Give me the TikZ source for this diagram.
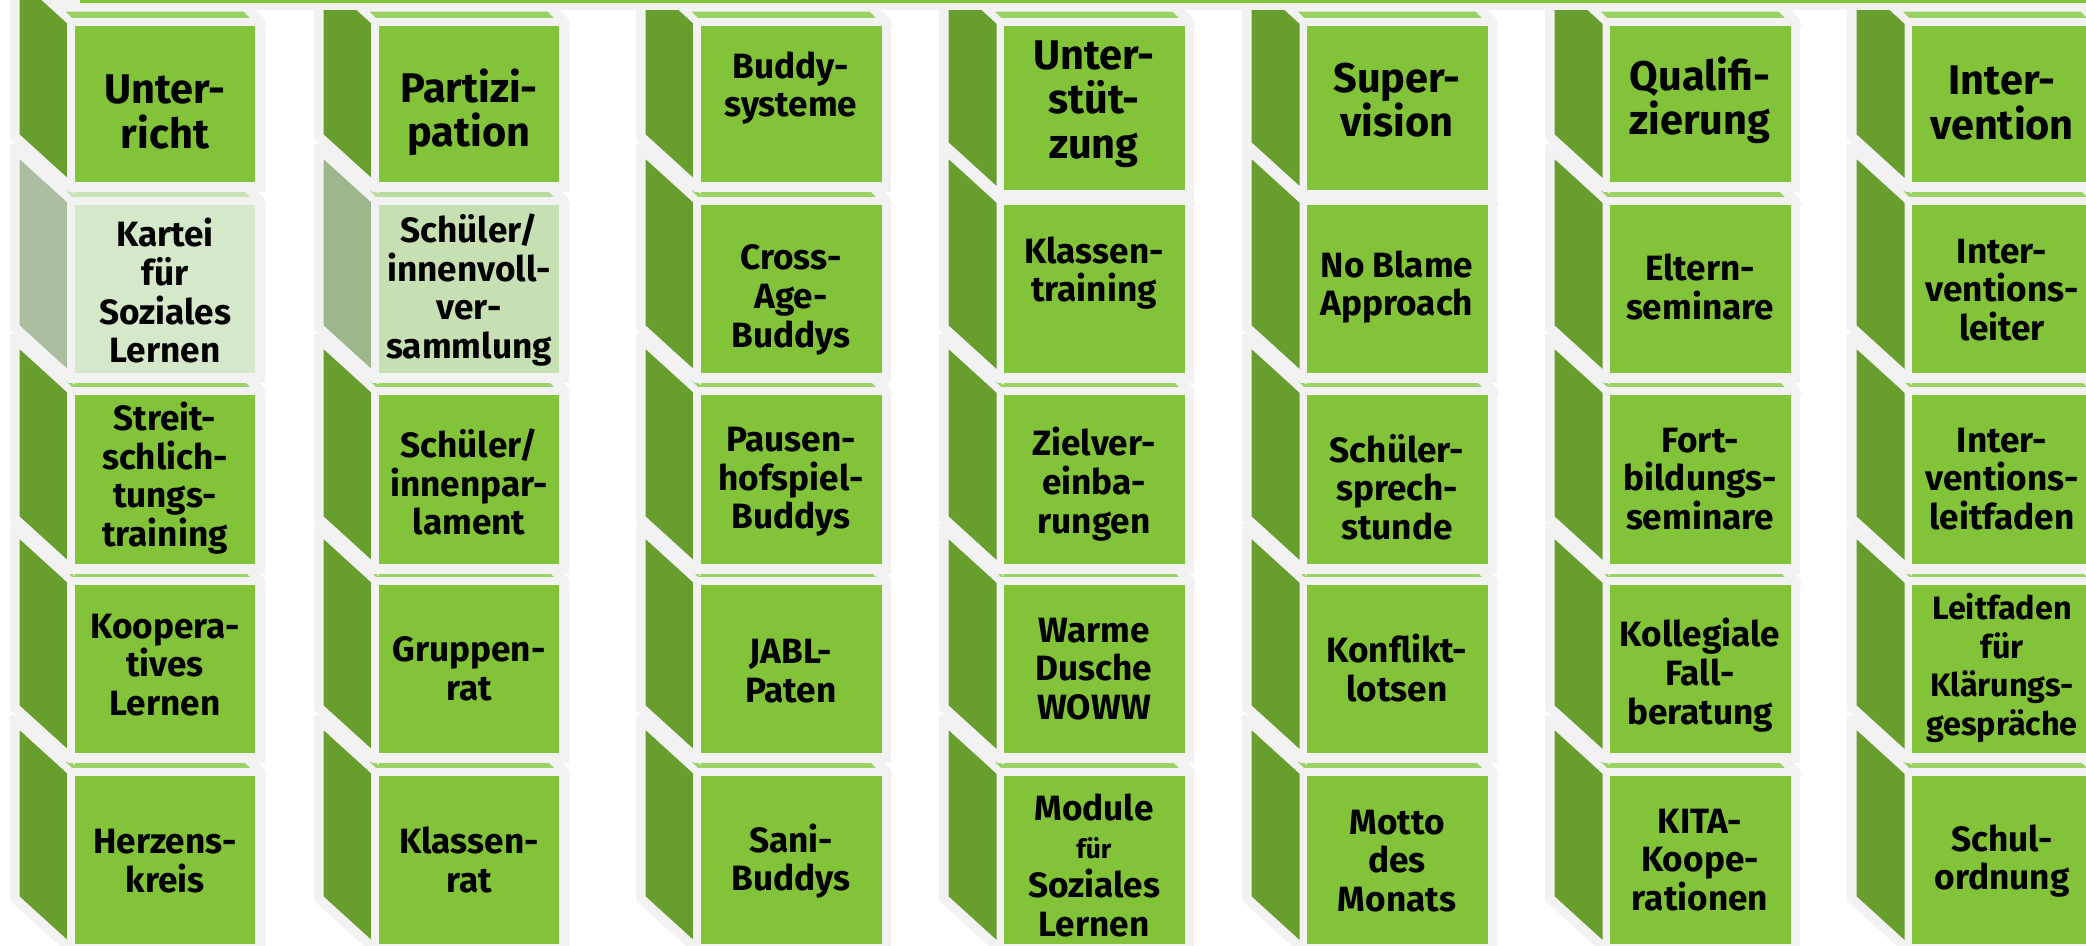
\documentclass[tikz,border=0pt]{standalone}
\usepackage{fontspec}
\setmainfont{Fira Sans}
\usepackage{tikz}
\definecolor{bsFront}{RGB}{130,195,57}
\definecolor{bsSide}{RGB}{104,158,45}
\definecolor{bsTop}{RGB}{155,210,100}
\definecolor{bsRim}{RGB}{242,242,242}
\definecolor{karteiFront}{RGB}{213,232,202}
\definecolor{karteiSide}{RGB}{172,190,162}
\definecolor{karteiTop}{RGB}{200,228,180}
\definecolor{vollFront}{RGB}{198,224,180}
\definecolor{vollSide}{RGB}{158,182,140}
\definecolor{vollTop}{RGB}{185,220,160}

% cuboid: #1 left x, #2 top y, #3 bottom y, #4 front, #5 side, #6 top
\newcommand{\cuboid}[6]{%
  \draw[rim] (#1-55,#2-50) -- (#1+174,#2-14) -- (#1+188,#2) -- (#1+188,#3)
    -- (#1,#3) -- (#1-55,#3-50) -- cycle;
  \draw[face, fill=#5] (#1,#2) -- (#1,#3) -- (#1-55,#3-50) -- (#1-55,#2-50) -- cycle;
  \draw[face, fill=#6] (#1,#2) -- (#1+188,#2) -- (#1+174,#2-14) -- (#1-14,#2-14) -- cycle;
  \draw[face, fill=#4] (#1,#2) rectangle (#1+188,#3);
}

\begin{document}
\begin{tikzpicture}[x=0.01cm, y=-0.01cm,
  rim/.style={draw=bsRim, fill=bsRim, line width=3.4pt},
  face/.style={draw=bsRim, line width=2pt},
  titel/.style={align=center, font=\bfseries\fontsize{11.8}{12.6}\selectfont},
  eintrag/.style={align=center, font=\bfseries\fontsize{10}{11}\selectfont}]
  \clip (0,0) rectangle (2086,946);
  \fill[white] (0,0) rectangle (2086,946);

  % cubes, lowest row first
  \foreach \ft/\fb in {772/948, 581/757, 391/568}
    \foreach \fx in {71,375,697,1000,1303,1606,1908}
      {\cuboid{\fx}{\ft}{\fb}{bsFront}{bsSide}{bsTop}}
  \foreach \fx/\fc/\sc/\tc in {71/karteiFront/karteiSide/karteiTop,
      375/vollFront/vollSide/vollTop, 697/bsFront/bsSide/bsTop,
      1000/bsFront/bsSide/bsTop, 1303/bsFront/bsSide/bsTop,
      1606/bsFront/bsSide/bsTop, 1908/bsFront/bsSide/bsTop}
    {\cuboid{\fx}{201}{377}{\fc}{\sc}{\tc}}
  \foreach \fx/\fb in {71/186, 375/186, 697/186, 1000/194, 1303/194, 1606/186, 1908/186}
    {\cuboid{\fx}{22}{\fb}{bsFront}{bsSide}{bsTop}}

  % bar along the top
  \fill[bsRim] (67,-5) rectangle (2090,10);
  \fill[bsFront] (80,-5) rectangle (2090,3);

  % column 1
  \node[titel] (unterricht) at (165,112) {Unter-\\richt};
  \node[eintrag] (kartei) at (165,291) {Kartei\\für\\Soziales\\Lernen};
  \node[eintrag] (streit) at (165,478) {Streit-\\schlich-\\tungs-\\training};
  \node[eintrag] (koop) at (165,665) {Koopera-\\tives\\Lernen};
  \node[eintrag] (herz) at (165,861) {Herzens-\\kreis};

  % column 2
  \node[titel] (partizipation) at (469,112) {Partizi-\\pation};
  \node[eintrag] (vollvers) at (469,290) {Schüler/\\innenvoll-\\ver-\\sammlung};
  \node[eintrag] (parlament) at (469,482) {Schüler/\\innenpar-\\lament};
  \node[eintrag] (gruppenrat) at (469,669) {Gruppen-\\rat};
  \node[eintrag] (klassenrat) at (469,860) {Klassen-\\rat};

  % column 3
  \node[eintrag] (buddy) at (791,88) {Buddy-\\systeme};
  \node[eintrag] (crossage) at (791,300) {Cross-\\Age-\\Buddys};
  \node[eintrag] (pausen) at (791,482) {Pausen-\\hofspiel-\\Buddys};
  \node[eintrag] (jabl) at (791,671) {JABL-\\Paten};
  \node[eintrag] (sani) at (791,861) {Sani-\\Buddys};

  % column 4
  \node[titel] (unterstuetzung) at (1094,104) {Unter-\\stüt-\\zung};
  \node[eintrag] (klassentraining) at (1094,273) {Klassen-\\training};
  \node[eintrag] (ziel) at (1094,484) {Zielver-\\einba-\\rungen};
  \node[eintrag] (dusche) at (1094,669) {Warme\\Dusche\\WOWW};
  \node[eintrag] (module) at (1094,865) {Module\\{\fontsize{7.5}{9}\selectfont für}\\Soziales\\Lernen};

  % column 5
  \node[titel] (supervision) at (1397,100) {Super-\\vision};
  \node[eintrag] (noblame) at (1397,287) {No Blame\\Approach};
  \node[eintrag] (sprechstunde) at (1397,487) {Schüler-\\sprech-\\stunde};
  \node[eintrag] (lotsen) at (1397,668) {Konflikt-\\lotsen};
  \node[eintrag] (motto) at (1397,861) {Motto\\des\\Monats};

  % column 6
  \node[titel] (qualifizierung) at (1700,100) {Qualifi-\\zierung};
  \node[eintrag] (eltern) at (1700,287) {Eltern-\\seminare};
  \node[eintrag] (fortbildung) at (1700,479) {Fort-\\bildungs-\\seminare};
  \node[eintrag] (fallberatung) at (1700,675) {Kollegiale\\Fall-\\beratung};
  \node[eintrag] (kita) at (1700,860) {KITA-\\Koope-\\rationen};

  % column 7
  \node[titel] (intervention) at (2002,103) {Inter-\\vention};
  \node[eintrag] (leiter) at (2002,290) {Inter-\\ventions-\\leiter};
  \node[eintrag] (leitfaden) at (2002,479) {Inter-\\ventions-\\leitfaden};
  \node[eintrag, font=\bfseries\fontsize{9.2}{11}\selectfont] (klaerung) at (2002,668)
    {Leitfaden\\für\\Klärungs-\\gespräche};
  \node[eintrag] (schulordnung) at (2002,861) {Schul-\\ordnung};
\end{tikzpicture}
\end{document}
